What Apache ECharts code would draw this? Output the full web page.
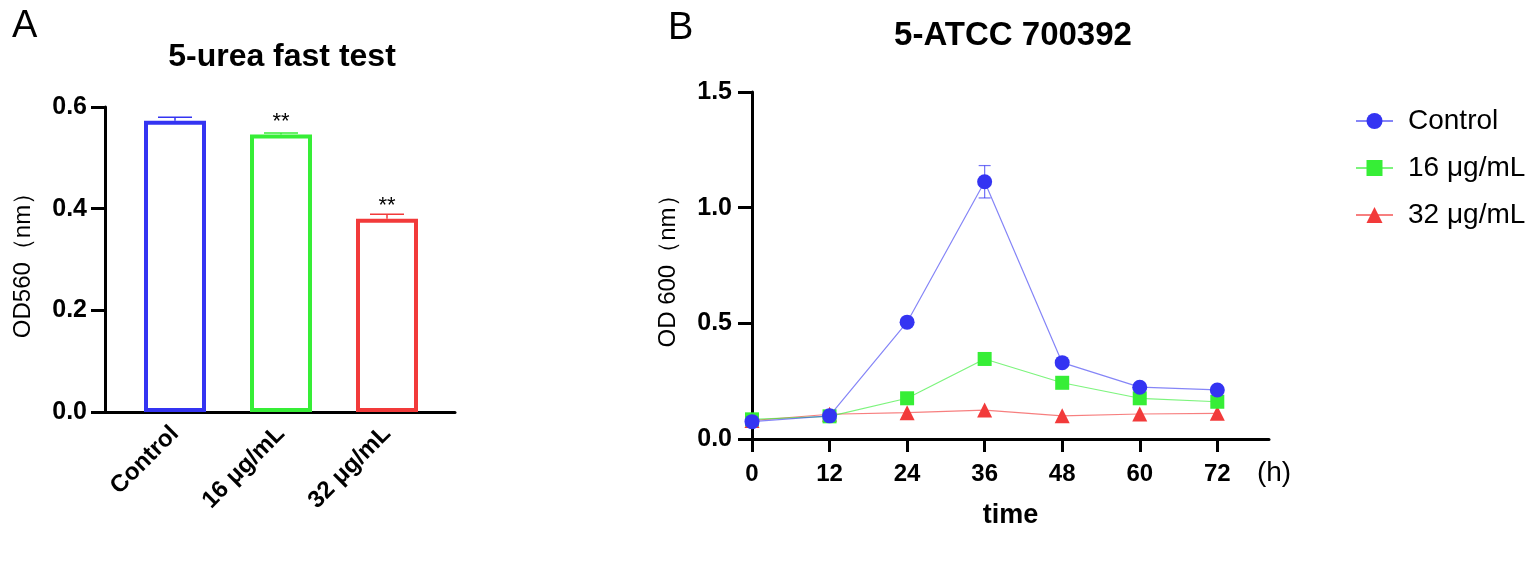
<!DOCTYPE html>
<html>
<head>
<meta charset="utf-8">
<script src="https://cdn.jsdelivr.net/npm/echarts@6/dist/echarts.min.js"></script>
<style>
  html, body { margin: 0; padding: 0; background: #fff; }
  #main { width: 1535px; height: 561px; }
</style>
</head>
<body>
<div id="main"></div>
<script>
// panel A: bar chart
const barCategories = ['Control', '16 μg/mL', '32 μg/mL'];
const barValues = [0.573, 0.546, 0.380];
const barErrors = [0.007, 0.003, 0.009];
const barMarks = ['', '**', '**'];
const barTicks = [0, 0.2, 0.4, 0.6];

// panel B: growth curves
const timePoints = [0, 12, 24, 36, 48, 60, 72];
const controlOD = [0.075, 0.100, 0.505, 1.112, 0.330, 0.224, 0.212];
const controlErr = [0.005, 0.006, 0.010, 0.070, 0.010, 0.008, 0.006];
const od16 = [0.085, 0.098, 0.176, 0.346, 0.243, 0.176, 0.161];
const od32 = [0.080, 0.107, 0.114, 0.125, 0.100, 0.108, 0.111];

const BLUE = '#3434f2';
const GREEN = '#36ee36';
const RED = '#f23a3a';
const FONT = '"Liberation Sans", Arial, Helvetica, sans-serif';

const myChart = echarts.init(document.getElementById('main'));

// error bar, upper half only (bars hide the lower half)
function upErrorBar(capHalf, color, width) {
  return function (params, api) {
    const x = api.value(0), y = api.value(1), e = api.value(2);
    const p = api.coord([x, y]);
    const hi = api.coord([x, y + e]);
    return {
      type: 'group',
      children: [
        { type: 'line', shape: { x1: p[0], y1: p[1], x2: hi[0], y2: hi[1] }, style: { stroke: color, lineWidth: width } },
        { type: 'line', shape: { x1: hi[0] - capHalf, y1: hi[1], x2: hi[0] + capHalf, y2: hi[1] }, style: { stroke: color, lineWidth: width } }
      ]
    };
  };
}

function fullErrorBar(capHalf, color, width) {
  return function (params, api) {
    const x = api.value(0), y = api.value(1), e = api.value(2);
    const hi = api.coord([x, y + e]);
    const lo = api.coord([x, y - e]);
    return {
      type: 'group',
      children: [
        { type: 'line', shape: { x1: hi[0], y1: hi[1], x2: lo[0], y2: lo[1] }, style: { stroke: color, lineWidth: width } },
        { type: 'line', shape: { x1: hi[0] - capHalf, y1: hi[1], x2: hi[0] + capHalf, y2: hi[1] }, style: { stroke: color, lineWidth: width } },
        { type: 'line', shape: { x1: lo[0] - capHalf, y1: lo[1], x2: lo[0] + capHalf, y2: lo[1] }, style: { stroke: color, lineWidth: width } }
      ]
    };
  };
}

const barColors = [BLUE, GREEN, RED];
const axisLineStyle = { color: '#000', width: 3 };

const option = {
  animation: false,
  textStyle: { fontFamily: FONT },
  graphic: [
    { type: 'text', left: 12, top: 8, style: { text: 'A', font: '38px ' + FONT, fill: '#000' } },
    { type: 'text', left: 668, top: 10, style: { text: 'B', font: '38px ' + FONT, fill: '#000' } },
    { type: 'text', x: 282, y: 57, style: { text: '5-urea fast test', font: 'bold 32px ' + FONT, fill: '#000', textAlign: 'center', textVerticalAlign: 'middle' } },
    { type: 'text', x: 1013, y: 36, style: { text: '5-ATCC 700392', font: 'bold 33px ' + FONT, fill: '#000', textAlign: 'center', textVerticalAlign: 'middle' } },
    { type: 'text', x: 1274, y: 473, style: { text: '(h)', font: '28px ' + FONT, fill: '#000', textAlign: 'center', textVerticalAlign: 'middle' } }
  ],
  legend: {
    orient: 'vertical',
    left: 1350,
    top: 102,
    itemWidth: 37,
    itemHeight: 20,
    itemGap: 19,
    data: ['Control', '16 μg/mL', '32 μg/mL'],
    textStyle: { fontSize: 28, lineHeight: 28, color: '#000', fontFamily: FONT, padding: [0, 0, 0, 10] }
  },
  grid: [
    { left: 122, width: 318, top: 107, height: 305 },
    { left: 105, width: 350, top: 107, height: 305 },
    { left: 752, width: 517, top: 92, height: 347 }
  ],
  xAxis: [
    {
      type: 'category', gridIndex: 0, data: barCategories,
      axisLine: { lineStyle: axisLineStyle },
      axisTick: { alignWithLabel: true, length: 13, lineStyle: { width: 3, color: '#000' } },
      axisLabel: { rotate: 45, margin: 18, fontSize: 24, fontWeight: 'bold', color: '#000' }
    },
    {
      type: 'value', gridIndex: 1, min: 0, max: 1,
      axisLine: { lineStyle: axisLineStyle },
      axisTick: { show: false }, axisLabel: { show: false }, splitLine: { show: false }
    },
    {
      type: 'value', gridIndex: 2, min: 0, max: 80, interval: 12,
      name: 'time', nameLocation: 'middle', nameGap: 63,
      nameTextStyle: { fontSize: 27, fontWeight: 'bold', color: '#000' },
      axisLine: { lineStyle: axisLineStyle },
      axisTick: { length: 13, lineStyle: { width: 3, color: '#000' }, customValues: timePoints },
      axisLabel: { margin: 23, fontSize: 24, fontWeight: 'bold', color: '#000', customValues: timePoints },
      splitLine: { show: false }
    }
  ],
  yAxis: [
    {
      type: 'value', gridIndex: 0, min: 0, max: 0.6, interval: 0.2, offset: 17,
      name: 'OD560（nm）', nameLocation: 'middle', nameGap: 70,
      nameTextStyle: { fontSize: 24, color: '#000' },
      axisLine: { show: true, lineStyle: axisLineStyle },
      axisTick: { show: true, length: 14, lineStyle: { width: 3, color: '#000' }, customValues: barTicks },
      axisLabel: { margin: 18, fontSize: 25, fontWeight: 'bold', color: '#000', customValues: barTicks, formatter: v => v.toFixed(1) },
      splitLine: { show: false }
    },
    { type: 'value', gridIndex: 1, min: 0, max: 1, show: false },
    {
      type: 'value', gridIndex: 2, min: 0, max: 1.5, interval: 0.5,
      name: 'OD 600（nm）', nameLocation: 'middle', nameGap: 72,
      nameTextStyle: { fontSize: 24, color: '#000' },
      axisLine: { show: true, lineStyle: axisLineStyle },
      axisTick: { show: true, length: 14, lineStyle: { width: 3, color: '#000' } },
      axisLabel: { margin: 20, fontSize: 25, fontWeight: 'bold', color: '#000', formatter: v => v.toFixed(1) },
      splitLine: { show: false }
    }
  ],
  series: [
    {
      type: 'bar', xAxisIndex: 0, yAxisIndex: 0, barWidth: 62,
      data: barValues.map((v, i) => ({
        value: v,
        itemStyle: { color: '#fff', borderColor: barColors[i], borderWidth: 4 }
      })),
      label: {
        show: true, position: 'top', distance: 2, fontSize: 22, color: '#000',
        formatter: p => barMarks[p.dataIndex]
      }
    },
    {
      type: 'custom', xAxisIndex: 0, yAxisIndex: 0, z: 3,
      renderItem: function (params, api) {
        return upErrorBar(17, barColors[params.dataIndex], 1.5)(params, api);
      },
      data: barValues.map((v, i) => [i, v, barErrors[i]])
    },
    {
      name: '32 μg/mL', type: 'line', xAxisIndex: 2, yAxisIndex: 2, z: 2,
      data: timePoints.map((t, i) => [t, od32[i]]),
      symbol: 'triangle', symbolSize: 15,
      itemStyle: { color: RED },
      lineStyle: { color: RED, width: 1.2, opacity: 0.65 }
    },
    {
      name: '16 μg/mL', type: 'line', xAxisIndex: 2, yAxisIndex: 2, z: 3,
      data: timePoints.map((t, i) => [t, od16[i]]),
      symbol: 'rect', symbolSize: 14,
      itemStyle: { color: GREEN },
      lineStyle: { color: GREEN, width: 1.2, opacity: 0.65 }
    },
    {
      name: 'Control', type: 'line', xAxisIndex: 2, yAxisIndex: 2, z: 4,
      data: timePoints.map((t, i) => [t, controlOD[i]]),
      symbol: 'circle', symbolSize: 15,
      itemStyle: { color: BLUE },
      lineStyle: { color: BLUE, width: 1.2, opacity: 0.6 }
    },
    {
      type: 'custom', xAxisIndex: 2, yAxisIndex: 2, z: 3,
      renderItem: fullErrorBar(6, 'rgba(52,52,242,0.7)', 1.2),
      data: timePoints.map((t, i) => [t, controlOD[i], controlErr[i]])
    }
  ]
};

option && myChart.setOption(option);
</script>
</body>
</html>
